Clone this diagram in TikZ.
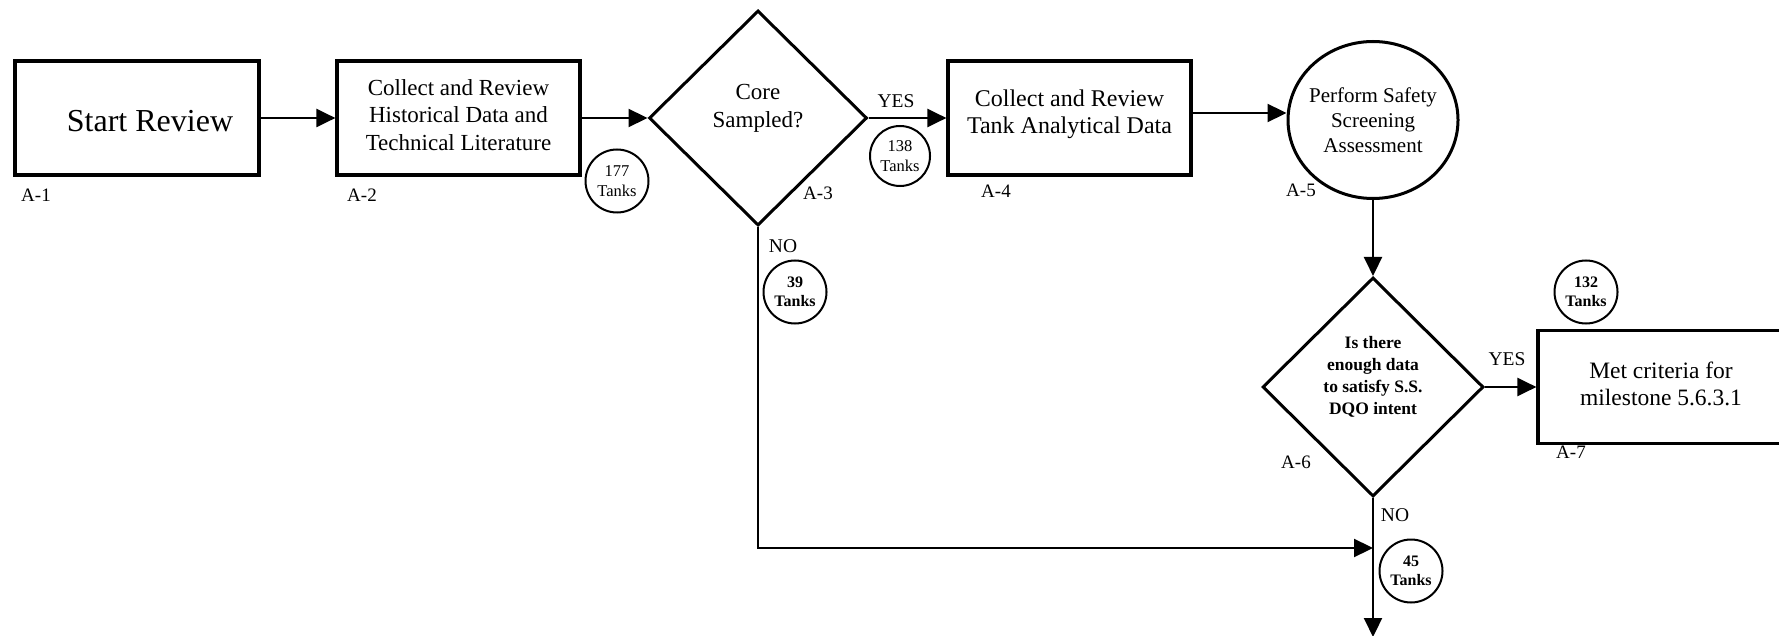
\documentclass[tikz,border=0pt]{standalone}
\usepackage{fontspec}
\setmainfont{Liberation Serif}
\usetikzlibrary{shapes.geometric,arrows.meta}
\begin{document}
\begin{tikzpicture}[x=1pt,y=-1pt,
  box/.style={draw,line width=3.2pt,rectangle,inner sep=0pt,minimum width=243pt,minimum height=114pt},
  dia/.style={draw,line width=3pt,diamond,aspect=1,inner sep=0pt},
  tank/.style={draw,line width=2pt,circle,inner sep=0pt,minimum size=63pt,align=center,font=\fontsize{16.5pt}{19.5pt}\selectfont},
  tankb/.style={tank,font=\fontsize{16pt}{19.5pt}\selectfont\bfseries},
  lab/.style={font=\fontsize{19pt}{21pt}\selectfont,inner sep=0pt},
  yn/.style={font=\fontsize{19.5pt}{21pt}\selectfont,inner sep=0pt},
  txt/.style={align=center,inner sep=0pt},
  arr/.style={line width=2.2pt,-{Triangle[length=19pt,width=18pt]}}]
\useasboundingbox (0,0) rectangle (1779,636);
\fill[white] (0,0) rectangle (1779,636);
\clip (0,0) rectangle (1779,636);

% main nodes
\node[box,minimum width=244pt] (a1) at (137,118) {};
\node[txt,font=\fontsize{32pt}{36pt}\selectfont] (a1t) at (150,121) {Start Review};

\node[box] (a2) at (458.5,118) {};
\node[txt,font=\fontsize{23pt}{27.5pt}\selectfont] (a2t) at (458.5,115) {Collect and Review\\Historical Data and\\Technical Literature};

\node[dia,minimum width=218pt,minimum height=215pt] (a3) at (758,118) {};
\node[txt,font=\fontsize{23pt}{28pt}\selectfont] (a3t) at (758,108) {Core\\Sampled?};

\node[box] (a4) at (1069.5,118) {};
\node[txt,font=\fontsize{24pt}{27pt}\selectfont] (a4t) at (1069.5,114) {Collect and Review\\Tank Analytical Data};

\node[draw,ellipse,line width=3pt,minimum width=170pt,minimum height=157pt,inner sep=0pt] (a5) at (1373,120) {};
\node[txt,font=\fontsize{21pt}{25pt}\selectfont] (a5t) at (1373,120) {Perform Safety\\Screening\\Assessment};

\node[dia,minimum width=221pt,minimum height=219pt] (a6) at (1373,387) {};
\node[txt,font=\fontsize{17.5pt}{22pt}\selectfont\bfseries] (a6t) at (1373,377) {Is there\\enough data\\to satisfy S.S.\\DQO intent};

\node[box,minimum width=260pt,minimum height=113pt] (a7) at (1668,387) {};
\node[txt,font=\fontsize{23.5pt}{27pt}\selectfont] (a7t) at (1661,384) {Met criteria for\\milestone 5.6.3.1};

% tank counts
\node[tank] (t177) at (617,181) {177\\Tanks};
\node[tank,minimum size=60pt] (t138) at (900,156) {138\\Tanks};
\node[tankb] (t39) at (795,292) {39\\Tanks};
\node[tankb] (t132) at (1586,292) {132\\Tanks};
\node[tankb] (t45) at (1411,571) {45\\Tanks};

% step labels
\node[lab] (l1) at (36,195) {A-1};
\node[lab] (l2) at (362,195) {A-2};
\node[lab] (l3) at (818,193) {A-3};
\node[lab] (l4) at (996,191) {A-4};
\node[lab] (l5) at (1301,190) {A-5};
\node[lab] (l6) at (1296,462) {A-6};
\node[lab] (l7) at (1571,452) {A-7};

% yes / no
\node[yn] (y3) at (896,101) {YES};
\node[yn] (n3) at (783,246) {NO};
\node[yn] (y6) at (1507,359) {YES};
\node[yn] (n6) at (1395,515) {NO};

% connectors
\coordinate (j) at (1373,548);
\coordinate (out) at (1373,637);
\draw[arr] (a1) -- (a2);
\draw[arr] (a2) -- (a3);
\draw[arr] (a3) -- (a4);
\draw[arr] ([yshift=5pt]a4.east) -- ([yshift=5pt]a4.east -| a5.west);
\draw[arr] (a5) -- (a6);
\draw[arr] (a6) -- (a7);
\draw[arr] (a6.south) -- (out);
\draw[arr] (a3.south) |- (j);
\end{tikzpicture}
\end{document}
